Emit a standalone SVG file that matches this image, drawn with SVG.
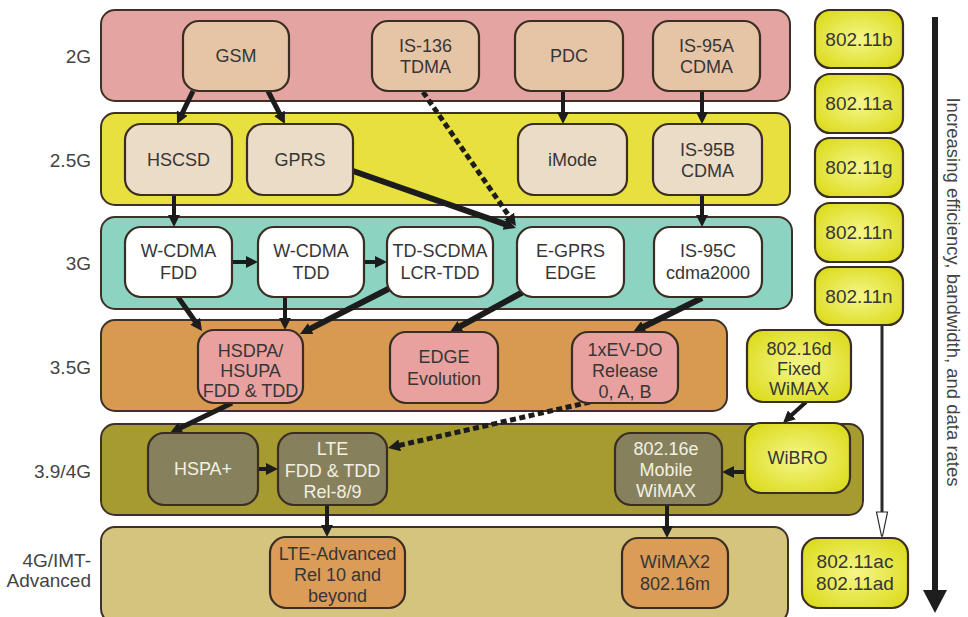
<svg xmlns="http://www.w3.org/2000/svg" width="968" height="617" viewBox="0 0 968 617">
  <defs>
    <style>
      .band { stroke: #3d3128; stroke-width: 2; }
      .node { stroke: #3a2e24; stroke-width: 2.2; }
      .t { font-family: "Liberation Sans", Arial, sans-serif; font-size: 18px; fill: #363636; text-anchor: middle; }
      .tw { fill: #f2f0e2; }
      .w11 { font-size: 19px; }
      .row { font-family: "Liberation Sans", Arial, sans-serif; font-size: 19px; fill: #444; text-anchor: end; }
      .c { fill: none; stroke: #1c1c1c; stroke-linecap: butt; marker-end: url(#ah); }
      .dash { stroke-dasharray: 6 3.5; }
      .g2 { fill: #e4a4a1; } .n2 { fill: #e6c5a6; }
      .g25 { fill: #e8e03e; } .n25 { fill: #eadcc7; }
      .g3 { fill: #8dd3c2; } .n3 { fill: #ffffff; }
      .g35 { fill: #d79a50; } .n35 { fill: #e8a19e; }
      .g39 { fill: #a69b30; } .n39 { fill: #86815c; }
      .g4 { fill: #d5c47e; } .n4 { fill: #db9c58; }
      .ny { fill: url(#yel); }
    </style>
    <radialGradient id="yel" cx="50%" cy="50%" r="60%">
      <stop offset="0" stop-color="#f6f68a"/>
      <stop offset="1" stop-color="#dcdc20"/>
    </radialGradient>
    <marker id="ah" markerUnits="userSpaceOnUse" markerWidth="14" markerHeight="12" refX="4" refY="6" orient="auto">
      <path d="M0,0 L12,6 L0,12 z" fill="#1c1c1c"/>
    </marker>
  </defs>

  <!-- generation bands -->
  <g id="bands">
    <rect class="band g2" x="101" y="10" width="689" height="91" rx="14"/>
    <rect class="band g25" x="101" y="113" width="689" height="92" rx="14"/>
    <rect class="band g3" x="101" y="217" width="691" height="92" rx="14"/>
    <rect class="band g35" x="101" y="320" width="626" height="91" rx="14"/>
    <rect class="band g39" x="101" y="424" width="762" height="91" rx="14"/>
    <rect class="band g4" x="101" y="527" width="687" height="96" rx="14"/>
  </g>

  <!-- row labels -->
  <g id="rows">
    <text class="row" x="91" y="63">2G</text>
    <text class="row" x="91" y="167">2.5G</text>
    <text class="row" x="91" y="270">3G</text>
    <text class="row" x="91" y="374">3.5G</text>
    <text class="row" x="91" y="478">3.9/4G</text>
    <text class="row" x="91" y="567">4G/IMT-</text>
    <text class="row" x="91" y="587">Advanced</text>
  </g>

  <!-- connectors -->
  <g id="connectors">
    <line class="c" x1="193" y1="91" x2="180.5" y2="116.8" stroke-width="5"/>
    <line class="c" x1="268" y1="91" x2="281.3" y2="116.9" stroke-width="5"/>
    <line class="c dash" x1="423" y1="92" x2="511.4" y2="219.4" stroke-width="5"/>
    <line class="c" x1="563" y1="91" x2="563" y2="116" stroke-width="4"/>
    <line class="c" x1="702" y1="91" x2="702" y2="116" stroke-width="4"/>
    <line class="c" x1="174" y1="195" x2="174" y2="219" stroke-width="4"/>
    <line class="c" x1="353" y1="171" x2="508.4" y2="225.4" stroke-width="6"/>
    <line class="c" x1="702" y1="195" x2="702" y2="219" stroke-width="4"/>
    <line class="c" x1="232" y1="262" x2="250" y2="262" stroke-width="4"/>
    <line class="c" x1="364" y1="262" x2="379" y2="262" stroke-width="4"/>
    <line class="c" x1="178" y1="297" x2="197.4" y2="324.5" stroke-width="5"/>
    <line class="c" x1="285" y1="297" x2="285" y2="322" stroke-width="4"/>
    <line class="c" x1="400" y1="283" x2="307.1" y2="330.4" stroke-width="6"/>
    <line class="c" x1="523" y1="292" x2="457" y2="328.2" stroke-width="6"/>
    <line class="c" x1="702" y1="298" x2="640.2" y2="328.5" stroke-width="6"/>
    <line class="c" x1="232" y1="403" x2="177.2" y2="429.5" stroke-width="5"/>
    <line class="c dash" x1="590" y1="402" x2="395.8" y2="446.2" stroke-width="5"/>
    <line class="c" x1="258" y1="469" x2="270" y2="469" stroke-width="4"/>
    <line class="c" x1="806" y1="402" x2="788.9" y2="417.6" stroke-width="4"/>
    <line class="c" x1="745" y1="472" x2="730" y2="472" stroke-width="4"/>
    <line class="c" x1="327" y1="505" x2="327" y2="529" stroke-width="4"/>
    <line class="c" x1="667" y1="505" x2="667" y2="530" stroke-width="4"/>
    <line x1="882" y1="325" x2="882" y2="513" stroke="#2a2a2a" stroke-width="3"/>
    <polygon points="876.5,512 887.5,512 882.5,536 881.5,536" fill="#ffffff" stroke="#2a2a2a" stroke-width="1.2"/>
    <line x1="882" y1="536" x2="882" y2="539" stroke="#777" stroke-width="2"/>
  </g>

  <!-- 2G -->
  <g id="gsm"><rect class="node n2" x="183" y="21" width="106" height="70" rx="16"/><text class="t" x="236" y="62">GSM</text></g>
  <g id="is136"><rect class="node n2" x="372" y="21" width="107" height="70" rx="16"/><text class="t" x="425.5" y="52">IS-136</text><text class="t" x="425.5" y="73">TDMA</text></g>
  <g id="pdc"><rect class="node n2" x="515" y="21" width="108" height="70" rx="16"/><text class="t" x="569" y="62">PDC</text></g>
  <g id="is95a"><rect class="node n2" x="653" y="21" width="107" height="70" rx="16"/><text class="t" x="706.5" y="52">IS-95A</text><text class="t" x="706.5" y="73">CDMA</text></g>

  <!-- 2.5G -->
  <g id="hscsd"><rect class="node n25" x="125" y="124" width="107" height="71" rx="16"/><text class="t" x="178.5" y="166">HSCSD</text></g>
  <g id="gprs"><rect class="node n25" x="247" y="124" width="106" height="71" rx="16"/><text class="t" x="300" y="166">GPRS</text></g>
  <g id="imode"><rect class="node n25" x="518" y="124" width="109" height="71" rx="16"/><text class="t" x="572.5" y="166">iMode</text></g>
  <g id="is95b"><rect class="node n25" x="653" y="124" width="109" height="71" rx="16"/><text class="t" x="707.5" y="156">IS-95B</text><text class="t" x="707.5" y="177">CDMA</text></g>

  <!-- 3G -->
  <g id="wcdma-fdd"><rect class="node n3" x="125" y="227" width="107" height="70" rx="16"/><text class="t" x="178.5" y="257">W-CDMA</text><text class="t" x="178.5" y="279">FDD</text></g>
  <g id="wcdma-tdd"><rect class="node n3" x="258" y="227" width="106" height="70" rx="16"/><text class="t" x="311" y="257">W-CDMA</text><text class="t" x="311" y="279">TDD</text></g>
  <g id="td-scdma"><rect class="node n3" x="387" y="227" width="106" height="70" rx="16"/><text class="t" x="440" y="257">TD-SCDMA</text><text class="t" x="440" y="279">LCR-TDD</text></g>
  <g id="egprs"><rect class="node n3" x="517" y="227" width="107" height="70" rx="16"/><text class="t" x="570.5" y="257">E-GPRS</text><text class="t" x="570.5" y="279">EDGE</text></g>
  <g id="is95c"><rect class="node n3" x="654" y="227" width="108" height="70" rx="16"/><text class="t" x="708" y="257">IS-95C</text><text class="t" x="708" y="279">cdma2000</text></g>

  <!-- 3.5G -->
  <g id="hsdpa"><rect class="node n35" x="198" y="330" width="105" height="73" rx="16"/><text class="t" x="250.5" y="357">HSDPA/</text><text class="t" x="250.5" y="377">HSUPA</text><text class="t" x="250.5" y="397">FDD &amp; TDD</text></g>
  <g id="edge-evo"><rect class="node n35" x="390" y="332" width="108" height="71" rx="16"/><text class="t" x="444" y="363">EDGE</text><text class="t" x="444" y="385">Evolution</text></g>
  <g id="evdo"><rect class="node n35" x="572" y="332" width="106" height="71" rx="16"/><text class="t" x="625" y="356">1xEV-DO</text><text class="t" x="625" y="377">Release</text><text class="t" x="625" y="398">0, A, B</text></g>
  <g id="wimax-16d"><rect class="node ny" x="747" y="330" width="104" height="72" rx="16"/><text class="t" x="799" y="355">802.16d</text><text class="t" x="799" y="375">Fixed</text><text class="t" x="799" y="395">WiMAX</text></g>

  <!-- 3.9/4G -->
  <g id="hspa-plus"><rect class="node n39" x="148" y="433" width="110" height="72" rx="16"/><text class="t tw" x="203" y="475">HSPA+</text></g>
  <g id="lte"><rect class="node n39" x="278" y="433" width="109" height="72" rx="16"/><text class="t tw" x="332.5" y="455">LTE</text><text class="t tw" x="332.5" y="477">FDD &amp; TDD</text><text class="t tw" x="332.5" y="498">Rel-8/9</text></g>
  <g id="wimax-16e"><rect class="node n39" x="615" y="433" width="107" height="72" rx="16"/><text class="t tw" x="666" y="455">802.16e</text><text class="t tw" x="666" y="476">Mobile</text><text class="t tw" x="666" y="497">WiMAX</text></g>
  <g id="wibro"><rect class="node ny" x="745" y="423" width="105" height="70" rx="16"/><text class="t" x="797.5" y="464">WiBRO</text></g>

  <!-- 4G/IMT-Advanced -->
  <g id="lte-advanced"><rect class="node n4" x="270" y="537" width="135" height="71" rx="16"/><text class="t" x="337.5" y="560">LTE-Advanced</text><text class="t" x="337.5" y="581">Rel 10 and</text><text class="t" x="337.5" y="602">beyond</text></g>
  <g id="wimax2"><rect class="node n4" x="622" y="538" width="106" height="70" rx="16"/><text class="t" x="675" y="568">WiMAX2</text><text class="t" x="675" y="590">802.16m</text></g>

  <!-- 802.11 column -->
  <g id="wifi-b"><rect class="node ny" x="815" y="10" width="88" height="58" rx="15"/><text class="t w11" x="859" y="46">802.11b</text></g>
  <g id="wifi-a"><rect class="node ny" x="815" y="74" width="88" height="59" rx="15"/><text class="t w11" x="859" y="110">802.11a</text></g>
  <g id="wifi-g"><rect class="node ny" x="815" y="138" width="88" height="59" rx="15"/><text class="t w11" x="859" y="174">802.11g</text></g>
  <g id="wifi-n1"><rect class="node ny" x="815" y="203" width="88" height="59" rx="15"/><text class="t w11" x="859" y="239">802.11n</text></g>
  <g id="wifi-n2"><rect class="node ny" x="815" y="267" width="88" height="58" rx="15"/><text class="t w11" x="859" y="303">802.11n</text></g>
  <g id="wifi-ac"><rect class="node ny" x="802" y="538" width="106" height="70" rx="16"/><text class="t w11" x="855" y="568">802.11ac</text><text class="t w11" x="855" y="590">802.11ad</text></g>

  <!-- trend axis -->
  <g id="axis">
    <line x1="935" y1="17" x2="935" y2="592" stroke="#1e1e1e" stroke-width="6"/>
    <polygon points="923,590 947,590 935,613" fill="#1e1e1e"/>
    <text transform="translate(947,292) rotate(90)" font-family="'Liberation Sans', Arial, sans-serif" font-size="18.5" fill="#444" text-anchor="middle">Increasing efficiency, bandwidth, and data rates</text>
  </g>
</svg>
